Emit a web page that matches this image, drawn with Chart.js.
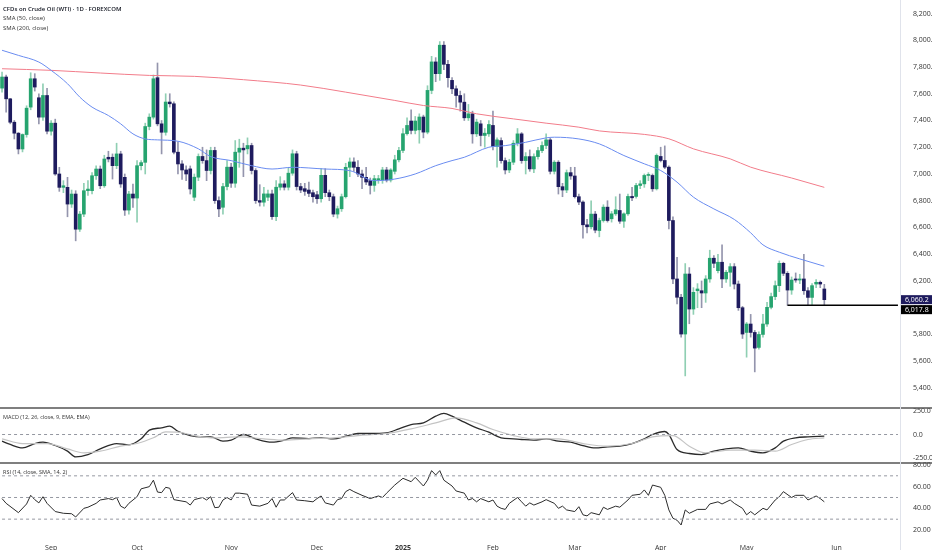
<!DOCTYPE html>
<html>
<head>
<meta charset="utf-8">
<script src="https://cdn.jsdelivr.net/npm/chart.js@4.4.1/dist/chart.umd.min.js"></script>
<style>
  html, body { margin: 0; padding: 0; background: #fff; }
  #wrap { position: relative; width: 932px; height: 550px; overflow: hidden; }
  #wrap canvas { position: absolute; left: 0; top: 0; }
  .lbl { position: absolute; left: 3px; font-family: 'Open Sans', sans-serif; color: #333; white-space: nowrap; line-height: 1; }
</style>
</head>
<body>
<div id="wrap">
  <canvas id="main" width="932" height="550"></canvas>
  <canvas id="macd" width="932" height="550"></canvas>
  <canvas id="rsi" width="932" height="550"></canvas>
  <div class="lbl" style="top:6px;font-size:6px;font-weight:600;color:#131722">CFDs on Crude Oil (WTI) · 1D · FOREXCOM</div>
  <div class="lbl" style="top:15px;font-size:6px">SMA (50, close)</div>
  <div class="lbl" style="top:25px;font-size:6px">SMA (200, close)</div>
  <div class="lbl" style="top:415px;font-size:5.5px">MACD (12, 26, close, 9, EMA, EMA)</div>
  <div class="lbl" style="top:470px;font-size:5.5px">RSI (14, close, SMA, 14, 2)</div>
</div>
<script>
// daily candles, WTI CFD, from 15 Aug 2024
const opens = [
  7642,7725,7562,7387,7305,7187,7295,7500,7712,7570,
  7425,7587,7320,7380,7000,6900,6900,6775,6850,6587,
  6700,6875,6875,6987,7037,6912,7125,7125,7062,7150,
  6975,6730,6850,6820,7062,7087,7355,7425,7720,7375,
  7312,7538,7525,7163,7075,7030,7038,6826,6976,7131,
  7100,7026,7176,6801,6751,6906,7051,6931,7163,7193,
  7188,7213,7026,6801,6789,6826,6851,6681,6901,6926,
  6901,7006,7151,6906,6890,6880,6860,6845,6815,6990,
  6860,6830,6700,6740,6830,7050,7090,7050,7000,6975,
  6950,6915,6955,6955,7030,6955,7020,7106,7176,7301,
  7396,7326,7330,7426,7313,7625,7838,7750,7963,7820,
  7700,7637,7587,7537,7420,7450,7300,7375,7288,7300,
  7363,7205,7250,7100,7030,7088,7230,7300,7100,7130,
  7038,7130,7175,7213,7255,7020,7088,6905,6880,7010,
  6985,6830,6790,6620,6605,6700,6577,6652,6752,6665,
  6702,6727,6647,6702,6832,6832,6914,6926,6989,6989,
  6889,7131,7101,7051,6652,6215,6078,5803,6252,5990,
  6127,6127,6110,6215,6370,6277,6340,6215,6265,6307,
  6177,6000,5815,5878,5815,5703,5800,5878,6003,6083,
  6165,6332,6257,6132,6215,6207,6215,6127,6077,6177,
  6190,6140
];
const highs = [
  7762,7740,7565,7400,7310,7300,7510,7757,7750,7600,
  7675,7640,7400,7410,7050,6950,6975,6880,6875,6720,
  6930,6950,7010,7060,7060,7140,7170,7150,7230,7170,
  7000,6870,6925,7100,7100,7380,7450,7740,7830,7400,
  7600,7600,7540,7240,7100,7060,7060,7000,7150,7200,
  7180,7200,7200,6830,6930,7100,7080,7250,7260,7230,
  7270,7230,7040,6920,6900,6880,6880,6950,6980,6950,
  7050,7180,7170,6930,6930,6940,6880,6870,7040,7040,
  6880,6850,6760,6850,7080,7120,7120,7100,7030,7050,
  6970,6990,6990,7050,7050,7040,7140,7200,7340,7420,
  7480,7430,7450,7440,7660,7880,7870,7990,7990,7850,
  7720,7660,7620,7600,7520,7470,7410,7400,7340,7400,
  7470,7270,7270,7120,7110,7250,7340,7310,7160,7180,
  7150,7200,7240,7300,7270,7100,7100,6930,7030,7050,
  7050,6850,6800,6660,6800,6720,6670,6770,6800,6720,
  6830,6850,6710,6850,6900,6930,6950,7000,7010,7000,
  7150,7200,7210,7060,6680,6377,6100,6330,6300,6150,
  6180,6200,6240,6430,6390,6400,6470,6280,6330,6330,
  6200,6010,5890,5950,5830,5820,5950,6040,6110,6200,
  6350,6340,6270,6230,6260,6250,6400,6150,6180,6210,
  6200,6175
];
const lows = [
  7612,7462,7375,7262,7150,7165,7275,7480,7620,7375,
  7400,7300,7290,6990,6870,6860,6680,6750,6500,6570,
  6680,6840,6850,6960,6890,6900,7090,6962,7040,6900,
  6690,6700,6750,6640,7030,7000,7330,7410,7360,7150,
  7290,7500,7150,7000,6960,6950,6850,6800,6950,7080,
  6950,7000,6780,6680,6700,6880,6900,6900,7050,6980,
  7150,7000,6780,6760,6760,6800,6660,6650,6880,6880,
  6880,6990,6880,6860,6840,6830,6790,6780,6790,6830,
  6800,6680,6670,6720,6820,6980,7020,6980,6890,6920,
  6850,6870,6930,6930,6940,6940,7000,7090,7160,7290,
  7300,7300,7230,7270,7300,7600,7690,7700,7780,7650,
  7600,7500,7470,7400,7400,7230,7280,7210,7200,7280,
  7180,7050,7080,7000,7010,7070,7210,7080,7000,7020,
  7010,7110,7160,7190,7000,7000,6850,6830,6860,6960,
  6820,6770,6520,6560,6590,6560,6530,6640,6640,6640,
  6690,6630,6600,6690,6800,6820,6890,6900,6950,6870,
  6880,7090,7040,6590,6180,6028,5780,5490,5880,5950,
  6000,6000,6040,6190,6300,6260,6150,6190,6160,6140,
  5980,5770,5630,5780,5520,5690,5780,5860,5990,6060,
  6120,6240,6018,6100,6190,6180,6100,6020,6018,6150,
  6150,6020
];
const closes = [
  7725,7562,7387,7305,7187,7295,7492,7712,7650,7425,
  7587,7320,7380,7000,6900,6912,6775,6850,6587,6700,
  6875,6887,6987,7037,6912,7112,7112,7062,7150,6925,
  6730,6850,6820,7062,7085,7355,7425,7712,7375,7312,
  7538,7525,7163,7075,7030,7000,6888,6976,7131,7100,
  7026,7176,6801,6739,6906,7051,6931,7163,7193,7180,
  7213,7026,6801,6789,6851,6851,6681,6901,6926,6901,
  7006,7151,6906,6880,6870,6855,6830,6815,6990,6860,
  6830,6700,6740,6830,7050,7090,7050,7000,6975,6940,
  6915,6965,6965,7030,6955,7030,7106,7176,7301,7363,
  7326,7396,7426,7313,7625,7838,7750,7963,7820,7720,
  7637,7587,7537,7420,7450,7300,7388,7288,7305,7370,
  7205,7255,7100,7030,7088,7230,7300,7100,7130,7038,
  7130,7175,7213,7255,7020,7088,6905,6880,7010,6985,
  6830,6790,6620,6605,6700,6580,6652,6752,6652,6702,
  6732,6647,6702,6832,6822,6914,6926,6989,6995,6889,
  7139,7101,7051,6652,6215,6078,5803,6252,5990,6115,
  6140,6110,6215,6370,6332,6340,6215,6265,6307,6177,
  6000,5803,5878,5815,5698,5800,5878,6003,6083,6165,
  6332,6257,6132,6207,6207,6215,6127,6077,6165,6190,
  6177,6060.2
];

// moving averages read at some days (day index -> value)
const sma50Day = [0,4,9,12,16,19,22,26,29,32,35,38,43,48,51,56,61,66,71,79,85,91,96,101,106,110,113,119,123,128,133,135,141,146,152,157,161,165,169,174,179,183,186,190,195,201];
const sma50 = [7925,7887,7837,7775,7675,7575,7500,7437,7375,7300,7262,7255,7245,7188,7130,7100,7062,7037,7050,7037,7025,6950,6962,7000,7062,7100,7125,7200,7212,7237,7270,7275,7262,7225,7138,7076,7026,6939,6827,6739,6660,6560,6470,6415,6365,6310];
const sma200Day = [0,12,24,36,47,59,73,84,96,103,110,116,125,133,141,146,157,163,169,178,183,193,201];
const sma200 = [7787,7775,7755,7737,7730,7705,7665,7612,7550,7512,7490,7450,7412,7380,7350,7322,7296,7263,7188,7113,7051,6970,6900];

const macdDay = [0,2,5,8,10,13,16,18,21,24,28,31,34,36,39,41,43,46,49,51,54,56,59,62,66,69,71,75,78,81,84,87,90,94,97,100,103,106,108,110,113,116,119,122,125,127,130,133,136,139,142,145,148,151,154,157,159,162,163,165,168,171,174,177,180,183,186,189,191,194,197,201];
const macd = [-71,-106,-142,-96,-82,-117,-177,-238,-213,-153,-96,-110,-46,46,71,89,35,-11,-25,-25,-71,-60,0,-46,-82,-60,-35,-43,-35,-46,-18,11,11,18,60,106,124,195,224,195,131,71,25,-35,-46,-53,-60,-46,-71,-82,-117,-142,-131,-124,-96,-46,0,32,0,-160,-202,-213,-177,-153,-142,-177,-195,-142,-71,-35,-25,-18];
const signalDay = [0,5,11,16,20,24,29,33,37,40,43,47,52,58,64,69,75,81,87,94,100,106,111,116,120,125,130,136,142,148,154,159,164,168,172,178,184,189,193,197,201];
const signal = [-46,-96,-96,-153,-195,-177,-124,-96,-35,28,25,-11,-35,-25,-46,-60,-46,-35,-11,11,60,124,177,124,53,-11,-46,-46,-96,-124,-96,-25,-11,-124,-195,-167,-167,-177,-106,-53,-35];

const rsiDay = [0,1,4,6,7,8,9,10,11,13,15,17,18,20,21,23,24,26,27,28,29,30,31,33,34,36,37,38,39,40,41,42,45,46,47,49,50,51,52,53,54,55,56,57,58,60,61,63,65,66,67,68,69,71,72,74,76,77,78,79,81,82,83,84,85,86,88,90,92,93,94,96,98,100,101,103,104,105,106,107,108,110,111,113,114,115,116,117,119,120,121,122,123,124,126,127,128,129,130,132,133,135,136,137,138,140,141,142,143,144,146,147,148,150,151,153,154,156,157,158,159,161,162,163,164,165,166,167,168,170,172,173,175,176,178,179,181,182,183,184,186,187,189,190,191,193,194,196,197,199,200,201];
const rsi = [49,44.6,36,44,52,48,45,50.7,44.6,37,35.4,35,32,40,41,44.6,47.7,49,48,50,42,40,44.6,50.7,58,60,66,55,54.5,59.4,58.5,48,46,43,48,50,47.7,50.7,40.6,41,47.7,50,47.7,54,54,53,43,42,44.6,49,41,47.7,47.7,54.5,47.7,47,46,49,51.4,45,43,48,49,55.4,57.5,55.4,52,49,51.4,50,54,61.5,67.7,64.6,68.6,60.6,66,74.8,70.8,74.8,66,60.6,56,54,47.7,49,46,49,46,47.7,42,40,39,44.6,50,46,42,45,43,46,48,44.6,40,42,38.5,37,41.5,34,33,36,34,41,39,42,41,47.7,52,53,57,52,61.5,59.4,52,38.5,30.8,29,24.6,38.5,35.4,39,39,44,46,44,47.7,44.6,40,34,37,34,40,38.5,47.7,50.7,55.4,50,52,52,47.7,51.4,49,46];

const priceTicks = [5400,5600,5800,6000,6200,6400,6600,6800,7000,7200,7400,7600,7800,8000,8200];
const macdTicks = [-250, 0, 250];
const rsiTicks = [20, 40, 60, 80];
const rsiBands = [70, 50, 30];
const monthNames = ['Jan','Feb','Mar','Apr','May','Jun','Jul','Aug','Sep','Oct','Nov','Dec'];
const holidays = ['2024-12-25', '2025-01-01', '2025-04-18'];
const supportFrom = 192, supportLevel = 6017.8;
const lastClose = 6060.2;

const SLOTS = 220;
const dates = [];
for (let d = new Date(Date.UTC(2024, 7, 15)); dates.length < SLOTS; d.setUTCDate(d.getUTCDate() + 1)) {
  const s = d.toISOString().slice(0, 10);
  if (d.getUTCDay() === 0 || d.getUTCDay() === 6 || holidays.includes(s)) continue;
  dates.push(s);
}

const UP = '#26a46f', DOWN = '#1e1b5e';
const UP_WICK = '#8fcfb3', DOWN_WICK = '#9495ad';
const FONT = "'Open Sans', sans-serif";
const up = closes.map((c, i) => c >= opens[i]);
const pts = (days, vals) => days.map((d, k) => ({ x: dates[d], y: vals[k] }));
const flat = v => [{ x: dates[0], y: v }, { x: dates[SLOTS - 1], y: v }];

const fixY = s => { s.width = 32; s.paddingTop = 0; s.paddingBottom = 0; };
const hiddenX = { type: 'category', offset: true, display: false };
function yAxis(min, max, ticks, fmt) {
  return {
    position: 'right', min: min, max: max,
    afterBuildTicks: s => { s.ticks = ticks.map(v => ({ value: v })); },
    afterFit: fixY,
    grid: { display: false }, border: { display: false },
    ticks: { padding: 5, color: '#333', font: { family: FONT, size: 7 }, callback: fmt }
  };
}
const base = {
  responsive: false, animation: false, events: [],
  plugins: { legend: { display: false }, tooltip: { enabled: false } }
};

// separators between panes and the price-axis edge
const frame = {
  id: 'frame',
  afterDraw(c) {
    const g = c.ctx, a = c.chartArea;
    g.save();
    g.strokeStyle = '#555'; g.lineWidth = 1.5;
    g.beginPath(); g.moveTo(0, a.top); g.lineTo(c.width, a.top); g.stroke();
    if (c.canvas.id === 'rsi') {
      g.strokeStyle = '#e0e3eb'; g.lineWidth = 1;
      g.beginPath(); g.moveTo(a.right + 0.5, 0); g.lineTo(a.right + 0.5, c.height); g.stroke();
    }
    g.restore();
  }
};

// last price / level boxes on the price axis
const priceTags = {
  id: 'priceTags',
  afterDraw(c) {
    const g = c.ctx, y = c.scales.y, x0 = c.chartArea.right;
    const fmt = v => v.toLocaleString('en-US', { minimumFractionDigits: 1, maximumFractionDigits: 1 });
    const h = 9;
    const y1 = y.getPixelForValue(lastClose);
    const y2 = Math.max(y.getPixelForValue(supportLevel), y1 + h + 1);
    g.save();
    g.font = '7px ' + FONT; g.textBaseline = 'middle';
    [[y1, DOWN, lastClose], [y2, '#000', supportLevel]].forEach(([py, col, v]) => {
      g.fillStyle = col; g.fillRect(x0, py - h / 2, 32, h);
      g.fillStyle = '#fff'; g.fillText(fmt(v), x0 + 5, py);
    });
    g.restore();
  }
};

new Chart(document.getElementById('main'), {
  type: 'bar',
  data: {
    labels: dates,
    datasets: [
      { data: lows.map((l, i) => [l, highs[i]]), backgroundColor: up.map(u => u ? UP_WICK : DOWN_WICK),
        barThickness: 1, grouped: false, order: 3 },
      { data: opens.map((o, i) => [o, closes[i]]), backgroundColor: up.map(u => u ? UP : DOWN),
        barThickness: 3, minBarLength: 1, grouped: false, order: 2 },
      { type: 'line', data: pts(sma50Day, sma50), borderColor: '#6a8cf0', borderWidth: 1,
        pointRadius: 0, cubicInterpolationMode: 'monotone', order: 1 },
      { type: 'line', data: pts(sma200Day, sma200), borderColor: '#f27c8a', borderWidth: 1,
        pointRadius: 0, cubicInterpolationMode: 'monotone', order: 1 },
      { type: 'line', data: [{ x: dates[supportFrom], y: supportLevel }, { x: dates[SLOTS - 1], y: supportLevel }],
        borderColor: '#000', borderWidth: 1.5, pointRadius: 0, order: 0 }
    ]
  },
  options: Object.assign({}, base, {
    layout: { padding: { top: 0, bottom: 142, left: 0, right: 0 } },
    scales: {
      x: hiddenX,
      y: yAxis(5250, 8301, priceTicks, v => v.toLocaleString('en-US', { minimumFractionDigits: 1, maximumFractionDigits: 1 }))
    }
  }),
  plugins: [priceTags]
});

new Chart(document.getElementById('macd'), {
  type: 'line',
  data: {
    labels: dates,
    datasets: [
      { data: flat(0), borderColor: '#9598a1', borderWidth: 1, borderDash: [3, 3], pointRadius: 0 },
      { data: pts(signalDay, signal), borderColor: '#c4c4c4', borderWidth: 1.2, pointRadius: 0, cubicInterpolationMode: 'monotone' },
      { data: pts(macdDay, macd), borderColor: '#2b2b2b', borderWidth: 1.3, pointRadius: 0, cubicInterpolationMode: 'monotone' }
    ]
  },
  options: Object.assign({}, base, {
    layout: { padding: { top: 408, bottom: 87, left: 0, right: 0 } },
    scales: { x: hiddenX, y: yAxis(-303, 282, macdTicks, v => v.toFixed(1)) }
  }),
  plugins: [frame]
});

new Chart(document.getElementById('rsi'), {
  type: 'line',
  data: {
    labels: dates,
    datasets: rsiBands.map(v => ({ data: flat(v), borderColor: '#9598a1', borderWidth: 1, borderDash: [3, 3], pointRadius: 0 }))
      .concat([{ data: pts(rsiDay, rsi), borderColor: '#2b2b2b', borderWidth: 1, pointRadius: 0 }])
  },
  options: Object.assign({}, base, {
    layout: { padding: { top: 463, bottom: 0, left: 0, right: 0 } },
    scales: {
      x: {
        type: 'category', offset: true,
        grid: { display: false }, border: { display: false },
        afterFit: s => { s.height = 17; s.paddingLeft = 0; s.paddingRight = 0; },
        ticks: {
          autoSkip: false, maxRotation: 0, padding: 3, color: '#333',
          font: c => ({ family: FONT, size: 7, weight: c.tick && c.tick.label === '2025' ? 'bold' : 'normal' }),
          callback: (v, i) => {
            if (i === 0) return null;
            const m = dates[i].slice(5, 7);
            if (m === dates[i - 1].slice(5, 7)) return null;
            return m === '01' ? dates[i].slice(0, 4) : monthNames[+m - 1];
          }
        }
      },
      y: yAxis(17.2, 81.85, rsiTicks, v => v.toFixed(2))
    }
  }),
  plugins: [frame]
});
</script>
</body>
</html>
